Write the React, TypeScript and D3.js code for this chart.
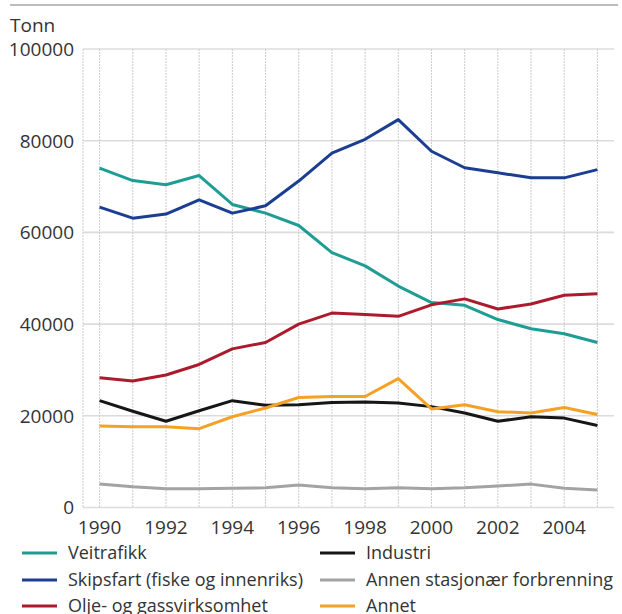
import React from 'react'
import { scaleLinear, line } from 'd3'

const years = [1990, 1991, 1992, 1993, 1994, 1995, 1996, 1997, 1998, 1999, 2000, 2001, 2002, 2003, 2004, 2005]

const veitrafikk = [74000, 71300, 70400, 72400, 66100, 64200, 61500, 55600, 52700, 48300, 44700, 44100, 41000, 39000, 37900, 36000]
const skipsfart = [65500, 63100, 64000, 67100, 64200, 65800, 71200, 77300, 80300, 84600, 77700, 74100, 73000, 71900, 71900, 73700]
const olje = [28300, 27600, 28900, 31200, 34600, 36000, 40000, 42400, 42100, 41700, 44200, 45500, 43300, 44400, 46300, 46600]
const industri = [23300, 21000, 18800, 21100, 23300, 22300, 22400, 22900, 23000, 22800, 22000, 20600, 18800, 19800, 19500, 17900]
const annenStasjonaer = [5100, 4500, 4100, 4100, 4200, 4300, 4900, 4300, 4100, 4300, 4100, 4300, 4700, 5100, 4200, 3800]
const annet = [17800, 17600, 17600, 17200, 19800, 21700, 24000, 24200, 24200, 28100, 21500, 22400, 20900, 20600, 21800, 20300]

const yTicks = [0, 20000, 40000, 60000, 80000, 100000]
const xTickLabels = [1990, 1992, 1994, 1996, 1998, 2000, 2002, 2004]

const series = [
  { name: 'Veitrafikk', values: veitrafikk, color: '#1f9d94' },
  { name: 'Skipsfart (fiske og innenriks)', values: skipsfart, color: '#1b3d92' },
  { name: 'Olje- og gassvirksomhet', values: olje, color: '#ac1b2d' },
  { name: 'Industri', values: industri, color: '#161616' },
  { name: 'Annen stasjonær forbrenning', values: annenStasjonaer, color: '#a3a3a3' },
  { name: 'Annet', values: annet, color: '#f5a126' },
]

const font = '"Open Sans", "Noto Sans", sans-serif'

export default function App() {
  const width = 622
  const height = 614
  const left = 83
  const right = 614
  const top = 49
  const bottom = 507.5

  const x = scaleLinear().domain([1989.5, 2005.5]).range([left, right])
  const y = scaleLinear().domain([0, 100000]).range([bottom, top])

  const path = line<number>()
    .x((_, i) => x(years[i]))
    .y(d => y(d))

  // legend: left column first three, right column the rest
  const legendRows = [553, 580, 606]
  const legendCols = [22, 320]

  return (
    <svg width={width} height={height} style={{ position: 'absolute', left: 0, top: 0, background: '#fff' }} fontFamily={font}>
      <line x1={10} x2={618} y1={5} y2={5} stroke="#bdbdbd" strokeWidth={2} />
      <text x={10} y={32} fontSize={19} fill="#333">Tonn</text>

      {/* horizontal grid */}
      {yTicks.map(t => (
        <line key={`h-${t}`} x1={left} x2={right} y1={y(t)} y2={y(t)} stroke="#dcdcdc" strokeWidth={1.6} />
      ))}
      {/* vertical grid */}
      {years.map(yr => (
        <line key={`v-${yr}`} x1={x(yr)} x2={x(yr)} y1={top} y2={bottom} stroke="#cccccc" strokeWidth={1} strokeDasharray="2,1" />
      ))}
      <line x1={left} x2={left} y1={top} y2={bottom} stroke="#cccccc" strokeWidth={1} strokeDasharray="2,1" />

      {yTicks.map(t => (
        <text key={`yl-${t}`} x={74} y={y(t)} dy="0.36em" textAnchor="end" fontSize={19} fill="#333">{t}</text>
      ))}
      {xTickLabels.map(t => (
        <text key={`xl-${t}`} x={x(t)} y={527} dy="0.36em" textAnchor="middle" fontSize={19} fill="#333">{t}</text>
      ))}

      {series.map(s => (
        <path key={s.name} d={path(s.values) || ''} fill="none" stroke={s.color} strokeWidth={3} strokeLinejoin="round" />
      ))}

      {series.map((s, i) => {
        const cx = legendCols[Math.floor(i / 3)]
        const cy = legendRows[i % 3]
        return (
          <g key={`lg-${s.name}`}>
            <line x1={cx} x2={cx + 35} y1={cy} y2={cy} stroke={s.color} strokeWidth={3} />
            <text x={cx + 46} y={cy} dy="0.36em" fontSize={18} fill="#333">{s.name}</text>
          </g>
        )
      })}
    </svg>
  )
}
